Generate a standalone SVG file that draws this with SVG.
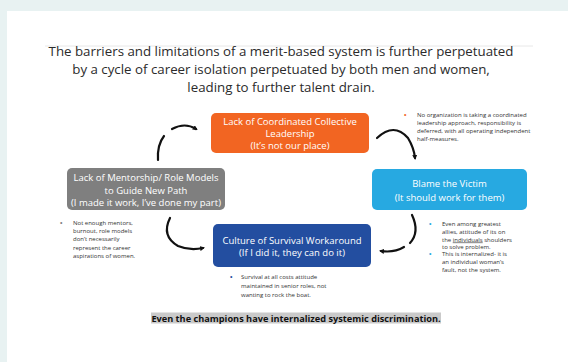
<svg xmlns="http://www.w3.org/2000/svg" width="568" height="362" viewBox="0 0 568 362">
  <defs>
    <style>
      .title { font-family: "Open Sans", "Noto Sans", "Liberation Sans", sans-serif; font-size: 13.3px; fill: #2b2b2b; text-anchor: middle; }
      .box-label { font-family: "Open Sans", "Noto Sans", "Liberation Sans", sans-serif; font-size: 9.5px; fill: #ffffff; text-anchor: middle; }
      .note { font-family: "Open Sans", "Noto Sans", "Liberation Sans", sans-serif; font-size: 6px; fill: #333333; }
      .bullet { font-family: "Liberation Sans", sans-serif; font-size: 7px; }
      .caption { font-family: "Open Sans", "Noto Sans", "Liberation Sans", sans-serif; font-size: 9.2px; font-weight: bold; fill: #111111; text-anchor: middle; }
      .flow { fill: none; stroke: #111111; stroke-width: 2.2; stroke-linecap: round; }
    </style>
    <marker id="head" viewBox="0 0 10 10" refX="6" refY="5" markerWidth="5" markerHeight="5" orient="auto" markerUnits="userSpaceOnUse">
      <path d="M0,0 L10,5 L0,10 Z" fill="#111111"/>
    </marker>
  </defs>

  <!-- page background and white slide area -->
  <rect x="0" y="0" width="568" height="362" fill="#e8f2f2"/>
  <rect x="7" y="11" width="561" height="351" fill="#ffffff"/>
  <line x1="45" y1="46" x2="533" y2="46" stroke="#e2e2e2" stroke-width="0.8"/>

  <!-- heading -->
  <g id="heading">
    <text class="title" x="281" y="55.5">The barriers and limitations of a merit-based system is further perpetuated</text>
    <text class="title" x="281" y="73.8">by a cycle of career isolation perpetuated by both men and women,</text>
    <text class="title" x="281" y="92">leading to further talent drain.</text>
  </g>

  <!-- cycle nodes -->
  <g id="node-leadership">
    <rect x="211" y="113" width="158" height="40" rx="5" fill="#f26522"/>
    <text class="box-label" x="290" y="125">Lack of Coordinated Collective</text>
    <text class="box-label" x="290" y="137">Leadership</text>
    <text class="box-label" x="290" y="149">(It’s not our place)</text>
  </g>

  <g id="node-blame">
    <rect x="372" y="169" width="155" height="41" rx="5" fill="#27a9e1"/>
    <text class="box-label" x="449.5" y="187">Blame the Victim</text>
    <text class="box-label" x="449.5" y="201">(It should work for them)</text>
  </g>

  <g id="node-survival">
    <rect x="213" y="224" width="158" height="43" rx="5" fill="#234ea0"/>
    <text class="box-label" x="292" y="244">Culture of Survival Workaround</text>
    <text class="box-label" x="292" y="256">(If I did it, they can do it)</text>
  </g>

  <g id="node-mentorship">
    <rect x="67" y="168" width="158" height="42" rx="5" fill="#7f7f7f"/>
    <text class="box-label" x="146" y="181">Lack of Mentorship/ Role Models</text>
    <text class="box-label" x="146" y="193.5">to Guide New Path</text>
    <text class="box-label" x="146" y="206">(I made it work, I’ve done my part)</text>
  </g>

  <!-- cycle connectors -->
  <g id="connectors">
    <path class="flow" d="M158,160 Q157,145 164,136"/>
    <path class="flow" d="M172,129 Q185,122 196,129" marker-end="url(#head)"/>
    <path class="flow" d="M377,138 Q394,122 408,138 Q414,148 415,158" marker-end="url(#head)"/>
    <path class="flow" d="M412,215 Q420,232 410,243"/>
    <path class="flow" d="M404,247 Q394,253 381,251" marker-end="url(#head)"/>
    <path class="flow" d="M170,218 Q161,236 178,246 Q190,251 203,248" marker-end="url(#head)"/>
  </g>

  <!-- side notes -->
  <g id="note-leadership">
    <text class="bullet" x="404" y="117" fill="#f26522">•</text>
    <text class="note" x="417" y="117">No organization is taking a coordinated</text>
    <text class="note" x="417" y="125">leadership approach, responsibility is</text>
    <text class="note" x="417" y="133">deferred, with  all operating independent</text>
    <text class="note" x="417" y="141">half-measures.</text>
  </g>

  <g id="note-blame">
    <text class="bullet" x="429" y="226" fill="#27a9e1">•</text>
    <text class="note" x="442" y="226">Even among greatest</text>
    <text class="note" x="442" y="234">allies, attitude of its on</text>
    <text class="note" x="442" y="241.5">the <tspan text-decoration="underline">individuals</tspan> shoulders</text>
    <text class="note" x="442" y="249">to solve problem.</text>
    <text class="bullet" x="429" y="256" fill="#27a9e1">•</text>
    <text class="note" x="442" y="256">This is internalized- it is</text>
    <text class="note" x="442" y="264">an individual woman’s</text>
    <text class="note" x="442" y="272">fault, not the system.</text>
  </g>

  <g id="note-mentorship">
    <text class="bullet" x="60" y="225" fill="#7f7f7f">•</text>
    <text class="note" x="73" y="225">Not enough mentors,</text>
    <text class="note" x="73" y="233">burnout, role models</text>
    <text class="note" x="73" y="241">don’t necessarily</text>
    <text class="note" x="73" y="249.5">represent the career</text>
    <text class="note" x="73" y="257.5">aspirations of women.</text>
  </g>

  <g id="note-survival">
    <text class="bullet" x="230" y="279" fill="#234ea0">•</text>
    <text class="note" x="241" y="279">Survival at all costs attitude</text>
    <text class="note" x="241" y="288">maintained in senior roles, not</text>
    <text class="note" x="241" y="296.5">wanting to rock the boat.</text>
  </g>

  <!-- closing statement -->
  <g id="caption">
    <rect x="151" y="312.5" width="290" height="11" fill="#cacaca"/>
    <text class="caption" x="296" y="321.5">Even the champions have internalized systemic discrimination.</text>
  </g>
</svg>
